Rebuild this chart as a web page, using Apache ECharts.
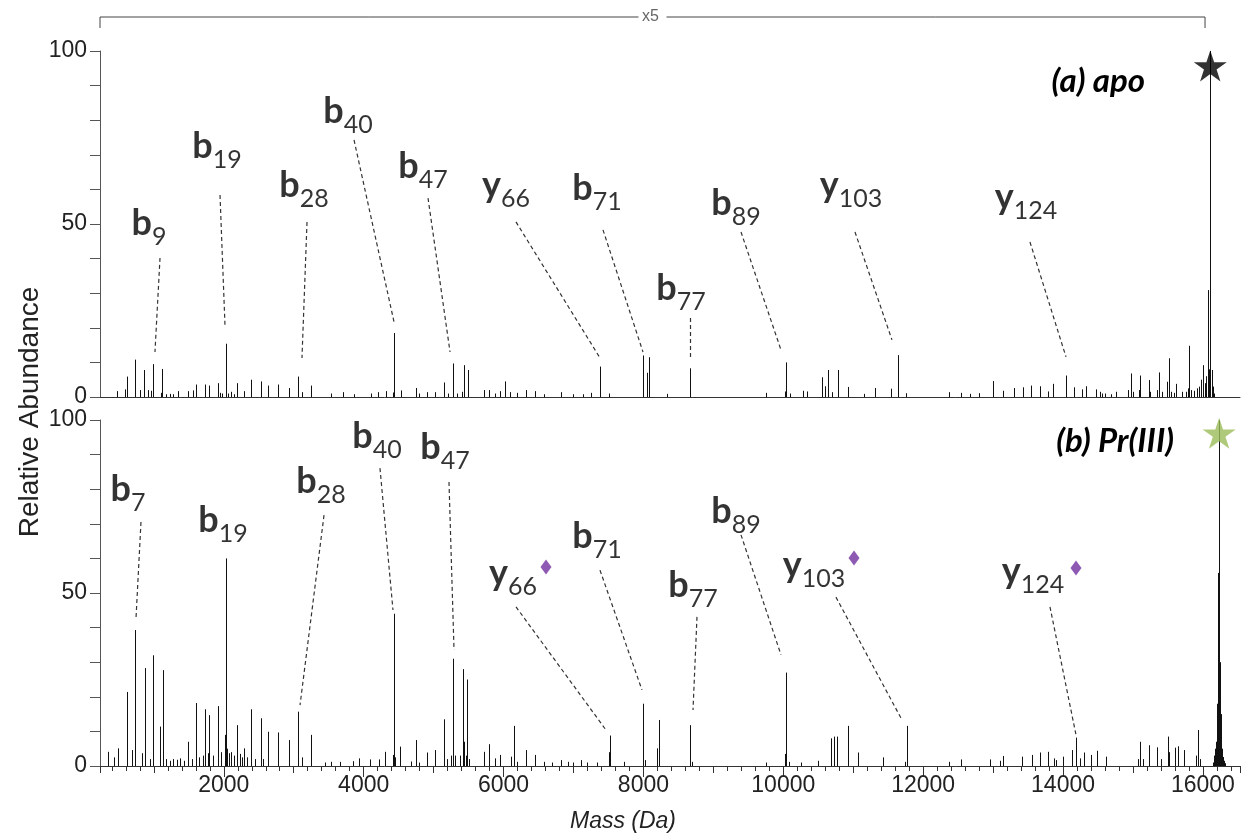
<!DOCTYPE html>
<html><head><meta charset="utf-8">
<script src="https://cdn.jsdelivr.net/npm/echarts@6/dist/echarts.min.js"></script>
<style>html,body{margin:0;padding:0;background:#fff}#c{width:1244px;height:837px}</style>
</head><body><div id="c"></div>
<script>
// ---------- data ----------
const massRange = [230, 16530];
const yLabelTicks = [0, 50, 100];
const bracketRange = [230, 16030];
const bracketText = 'x5';
const panelTitles = ['(a) apo', '(b) Pr(III)'];
const xAxisTitle = 'Mass (Da)';
const yAxisTitle = 'Relative Abundance';

// panel (a) apo : [mass, relative abundance]
const peaksApo = [
 [469,1.7],[581,2.2],[611,5.9],[724,10.8],[800,2.0],[862,7.8],[913,2.0],[953,1.8],[994,9.5],[1096,1.2],[1122,8.1],
 [1180,0.8],[1230,0.9],[1280,0.8],[1346,1.7],[1489,1.7],[1555,1.9],[1601,3.6],[1729,3.6],[1795,3.3],[1913,4.0],
 [1950,1.2],[1980,1.0],[2025,15.4],[2060,1.0],[2101,1.5],[2150,0.8],[2193,4.0],[2290,1.7],[2392,5.0],[2525,4.5],
 [2637,3.3],[2770,3.6],[2933,2.6],[3060,5.9],[3117,1.4],[3249,3.3],[3530,1.0],[3708,1.4],[3867,0.8],[4106,1.0],
 [4208,1.4],[4316,1.7],[4413,1.3],[4428,18.5],[4535,1.9],[4754,2.6],[4790,1.0],[4907,1.4],[5025,1.4],[5152,4.2],
 [5200,1.0],[5275,9.7],[5330,1.0],[5400,1.5],[5428,9.2],[5494,7.8],[5724,2.0],[5790,2.0],[5877,1.0],[5943,1.7],
 [6020,4.5],[6096,1.4],[6188,1.2],[6321,2.0],[6453,1.7],[6575,0.8],[6821,1.4],[7000,0.8],[7130,0.8],[7254,1.2],
 [7382,8.8],[7509,1.0],[7990,12.0],[8055,7.0],[8083,11.5],[8330,0.9],[8672,8.3],[9750,1.2],[10026,1.6],[10037,10.0],
 [10092,1.0],[10275,1.8],[10340,1.6],[10560,5.7],[10598,3.1],[10632,7.8],[10700,1.4],[10781,7.8],[10920,2.9],
 [11155,0.9],[11310,2.6],[11540,2.4],[11634,12.1],[11760,1.1],[12366,1.4],[12542,1.2],[12663,0.9],[12800,1.1],
 [13000,4.6],[13136,1.8],[13300,2.6],[13422,2.8],[13544,3.3],[13670,3.1],[13780,1.6],[13863,3.8],[14040,6.2],
 [14155,2.8],[14264,2.2],[14330,3.1],[14468,2.2],[14523,1.5],[14552,1.0],[14600,1.0],[14680,0.8],[14757,1.5],
 [14935,2.0],[14971,6.8],[15000,1.5],[15090,2.0],[15100,6.2],[15233,4.9],[15250,1.5],[15340,2.0],[15368,7.1],
 [15420,1.5],[15491,4.4],[15515,11.2],[15540,1.5],[15580,1.2],[15615,3.8],[15700,1.5],[15760,1.5],[15790,2.5],
 [15805,14.8],[15830,2.0],[15870,1.8],[15920,2.5],[15950,3.0],[15975,5.0],[16005,9.2],[16030,4.0],[16050,6.0],
 [16068,30.9],[16085,8.0],[16105,100],[16125,7.8],[16140,3.0],[16155,1.0]
];

// panel (b) Pr(III) : [mass, relative abundance]
const peaksPr = [
 [341,4.1],[430,2.5],[484,5.1],[614,21.4],[688,4.6],[729,39.3],[826,3.7],[871,28.3],[940,2.0],[986,32.0],[1091,11.4],
 [1129,27.7],[1180,2.0],[1230,1.5],[1280,2.0],[1330,1.8],[1380,2.2],[1430,1.5],[1489,7.0],[1540,2.0],[1601,18.2],
 [1650,2.5],[1700,3.0],[1729,16.4],[1770,3.7],[1795,14.7],[1850,3.0],[1913,17.3],[1960,4.0],[2015,9.0],[2030,60.0],
 [2050,5.0],[2076,3.7],[2110,4.0],[2150,3.0],[2193,11.8],[2230,3.5],[2260,2.5],[2290,5.1],[2330,2.5],[2392,16.4],
 [2440,2.0],[2525,13.8],[2560,2.0],[2627,9.9],[2770,9.7],[2928,7.5],[3060,15.7],[3122,2.5],[3249,9.0],[3443,1.0],
 [3540,1.2],[3657,1.2],[3851,1.4],[3938,2.2],[4091,1.9],[4219,1.9],[4310,4.1],[4413,3.2],[4428,44.0],[4450,2.5],
 [4525,5.6],[4678,1.3],[4754,7.5],[4790,1.0],[4907,3.9],[5025,4.6],[5152,13.5],[5190,2.0],[5250,3.0],[5275,31.0],
 [5300,3.0],[5380,3.0],[5418,28.0],[5433,7.0],[5460,3.0],[5484,25.0],[5510,2.0],[5724,4.1],[5790,6.3],[5877,2.2],
 [5943,3.2],[6106,2.7],[6147,11.6],[6190,1.2],[6321,4.6],[6453,3.2],[6581,1.2],[6690,1.0],[6821,1.7],[6920,1.2],
 [7000,1.0],[7101,1.7],[7200,1.0],[7330,1.0],[7505,4.0],[7520,8.8],[7724,1.2],[7990,18.0],[8025,1.7],[8195,5.1],
 [8222,13.3],[8672,11.8],[8695,1.2],[9750,1.0],[10026,3.5],[10037,27.0],[10085,1.2],[10258,1.0],[10490,1.5],
 [10682,8.0],[10726,8.5],[10764,8.5],[10920,11.6],[11068,3.9],[11430,2.5],[11745,1.2],[11772,11.6],[12366,1.2],
 [12542,1.9],[12955,1.9],[13092,1.5],[13147,2.9],[13411,2.7],[13549,3.2],[13670,3.9],[13791,4.1],[13864,2.2],
 [13904,1.7],[14001,2.7],[14121,4.6],[14182,8.2],[14244,2.2],[14303,3.9],[14397,3.2],[14479,4.4],[14617,2.7],
 [15075,2.0],[15101,7.0],[15140,2.0],[15222,6.0],[15348,5.4],[15400,2.0],[15497,8.5],[15520,4.0],[15604,5.3],
 [15637,5.7],[15733,4.6],[15900,3.0],[15926,10.4],[15960,2.0],
 [16150,1.0],[16165,3.0],[16175,5.0],[16185,7.0],[16195,12.0],[16205,18.0],[16212,25.0],[16220,55.8],[16232,100],
 [16238,30.0],[16245,23.0],[16255,15.0],[16265,8.0],[16275,5.0],[16290,2.6],[16305,1.5],[16320,0.8]
];

// fragment ion annotations
const ionsApo = [['b','9'],['b','19'],['b','28'],['b','40'],['b','47'],['y','66'],['b','71'],['b','77'],['b','89'],['y','103'],['y','124']];
const ionLabelAtApo = [[931,49.1],[1903,71.4],[3147,60.1],[3776,81.5],[4848,65.6],[6035,60.1],[7336,59.0],[8537,30.3],[9323,54.9],[10968,60.1],[13470,56.4]];
const leadersApo = [
 [1088,40.2,1016,13.0],[1946,58.4,2017,20.8],[3190,50.6,3118,11.3],[3862,74.3,4434,21.7],[4920,57.5,5235,13.0],
 [6178,50.6,7379,11.3],[7422,48.3,7994,13.0],[8666,22.8,8666,10.7],[9395,47.7,9967,13.6],[11025,47.7,11554,16.5],
 [13527,44.8,14042,11.6]
];
const ionsPr = [['b','7'],['b','19'],['b','28'],['b','40'],['b','47'],['y','66'],['b','71'],['b','77'],['b','89'],['y','103'],['y','124']];
const ionLabelAtPr = [[630,78.9],[1989,69.7],[3390,81.2],[4190,94.2],[5163,90.8],[6135,54.6],[7336,65.3],[8709,50.9],[9323,72.5],[10439,56.9],[13570,55.2]];
const leadersPr = [
 [816,70.5,745,42.8],[3433,72.5,3090,17.6],[4233,86.1,4419,45.1],[5220,82.1,5292,33.5],[6178,46.0,7465,10.4],
 [7379,56.6,7979,22.0],[8766,43.1,8709,16.2],[9395,66.8,9967,32.1],[10753,48.8,11697,13.3],[13813,46.0,14185,9.0]
];
const metalMarkersPr = [[6607,57.5],[11011,60.1],[14185,57.2]];
const parentStars = [[16105,95.7],[16232,96.2]];

// ---------- chart ----------
const chart = echarts.init(document.getElementById('c'), null, {renderer:'canvas'});
const AX = '#555', TXT = '#222';
const tickFont = {fontSize:23, color:TXT, fontFamily:'Liberation Sans'};
const starPath = 'path://M50,0 L61.2,34.5 L97.6,34.5 L68.2,55.9 L79.4,90.5 L50,69.1 L20.6,90.5 L31.8,55.9 L2.4,34.5 L38.8,34.5 Z';

function stickSeries(data, xi, yi){
  return {type:'custom', xAxisIndex:xi, yAxisIndex:yi, data:data, clip:true, silent:true, z:2,
    encode:{x:0,y:1},
    renderItem:function(params, api){
      const m = api.value(0), h = api.value(1);
      const a = api.coord([m,0]), b = api.coord([m,h]);
      const x = Math.round(a[0]) + 0.5;
      return {type:'line', shape:{x1:x,y1:a[1],x2:x,y2:b[1]}, style:{stroke:'#111', lineWidth:1}};
    }};
}
function leaderSeries(list, xi, yi){
  return {type:'lines', coordinateSystem:'cartesian2d', xAxisIndex:xi, yAxisIndex:yi, silent:true, z:3,
    lineStyle:{color:'#333', width:1.2, type:[4,3], opacity:1},
    data:list.map(l => ({coords:[[l[0],l[1]],[l[2],l[3]]]}))};
}
const rich = {
  b:{fontSize:36, fontWeight:'bold', fontFamily:'Lato', color:'#000', verticalAlign:'top', lineHeight:36},
  s:{fontSize:25, fontFamily:'Lato', color:'#000', verticalAlign:'bottom', lineHeight:44}
};
function labelSeries(names, pos, xi, yi){
  return {type:'scatter', xAxisIndex:xi, yAxisIndex:yi, symbolSize:0, silent:true, z:4,
    data:names.map((n,i) => ({value:[pos[i][0],pos[i][1]], ion:n[0], idx:n[1]})),
    label:{show:true, position:'inside', formatter:p => '{b|'+p.data.ion+'}{s|'+p.data.idx+'}', rich:rich}};
}
function yAxisDef(gi){
  return {gridIndex:gi, type:'value', position:'left', min:0, max:100, interval:10,
    axisLine:{show:true, lineStyle:{color:AX, width:1}},
    axisTick:{show:true, length:10, lineStyle:{color:AX}},
    axisLabel:Object.assign({margin:13, formatter:v => yLabelTicks.includes(v) ? String(v) : ''}, tickFont),
    splitLine:{show:false}};
}
const xBase = {type:'value', position:'bottom', min:massRange[0], max:massRange[1], splitLine:{show:false}};

chart.setOption({
  animation:false,
  grid:[{left:100, right:4, top:51, height:346},{left:100, right:4, top:420, height:346}],
  xAxis:[
    Object.assign({}, xBase, {gridIndex:0, axisLine:{show:true, onZero:false, lineStyle:{color:'#333'}}, axisTick:{show:false}, axisLabel:{show:false}}),
    Object.assign({}, xBase, {gridIndex:1, splitNumber:8,
      axisLine:{show:true, onZero:false, lineStyle:{color:'#333'}},
      axisTick:{show:true, length:11, lineStyle:{color:'#333'}},
      axisLabel:Object.assign({margin:8, showMinLabel:false, showMaxLabel:false, formatter:v => (v % 2000 === 0 ? String(v) : '')}, tickFont)}),
    Object.assign({}, xBase, {gridIndex:1, splitNumber:16, axisLine:{show:false, onZero:false}, axisTick:{show:true, length:7, lineStyle:{color:'#333'}}, axisLabel:{show:false}}),
    Object.assign({}, xBase, {gridIndex:1, splitNumber:82, axisLine:{show:false, onZero:false}, axisTick:{show:true, length:5, lineStyle:{color:'#333'}}, axisLabel:{show:false}})
  ],
  yAxis:[yAxisDef(0), yAxisDef(1)],
  series:[
    stickSeries(peaksApo, 0, 0),
    stickSeries(peaksPr, 1, 1),
    leaderSeries(leadersApo, 0, 0),
    leaderSeries(leadersPr, 1, 1),
    labelSeries(ionsApo, ionLabelAtApo, 0, 0),
    labelSeries(ionsPr, ionLabelAtPr, 1, 1),
    {type:'scatter', xAxisIndex:0, yAxisIndex:0, symbol:starPath, symbolSize:[33,31], z:6, silent:true,
      itemStyle:{color:'#000'}, data:[parentStars[0]]},
    {type:'scatter', xAxisIndex:1, yAxisIndex:1, symbol:starPath, symbolSize:[33,31], z:6, silent:true,
      itemStyle:{color:'#9bbb59'}, data:[parentStars[1]]},
    {type:'scatter', xAxisIndex:1, yAxisIndex:1, symbol:'diamond', symbolSize:[11,15], z:6, silent:true,
      itemStyle:{color:'#7030a0'}, data:metalMarkersPr}
  ]
});

// annotations placed from the axis scales
const bx0 = chart.convertToPixel({xAxisIndex:0}, bracketRange[0]);
const bx1 = chart.convertToPixel({xAxisIndex:0}, bracketRange[1]);
const bxc = (bx0 + bx1) / 2;
const by = 17, byEnd = 28, gap = 14;
const lineStyle = {stroke:'#444', lineWidth:1, fill:null};
chart.setOption({
  graphic:[
    {type:'polyline', shape:{points:[[bx0,byEnd],[bx0,by],[bxc-gap,by]]}, style:lineStyle, silent:true},
    {type:'polyline', shape:{points:[[bxc+gap,by],[bx1,by],[bx1,byEnd]]}, style:lineStyle, silent:true},
    {type:'text', x:bxc-2, y:by, style:{text:bracketText, fill:'#666', font:'16px "Liberation Sans"', textAlign:'center', textVerticalAlign:'middle'}, silent:true},
    {type:'text', x:1145, y:81, style:{text:panelTitles[0], fill:'#000', font:'italic bold 33px Lato', textAlign:'right', textVerticalAlign:'middle'}, silent:true},
    {type:'text', x:1174, y:441, style:{text:panelTitles[1], fill:'#000', font:'italic bold 33px Lato', textAlign:'right', textVerticalAlign:'middle'}, silent:true},
    {type:'text', x:30, y:412, rotation:Math.PI/2, style:{text:yAxisTitle, fill:TXT, font:'28px "Liberation Sans"', textAlign:'center', textVerticalAlign:'middle'}, silent:true},
    {type:'text', x:623, y:822, style:{text:xAxisTitle, fill:TXT, font:'italic 23px "Liberation Sans"', textAlign:'center', textVerticalAlign:'middle'}, silent:true}
  ]
});
</script>
</body></html>
